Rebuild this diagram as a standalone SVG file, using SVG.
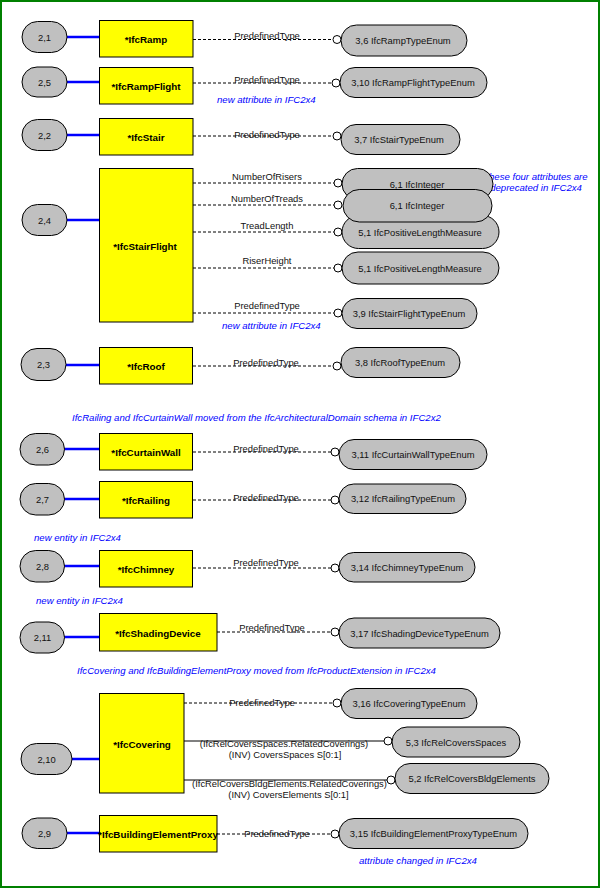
<svg xmlns="http://www.w3.org/2000/svg" width="600" height="888" viewBox="0 0 600 888">
<style>
.bg{fill:#fff}
.frame{fill:none;stroke:#008000;stroke-width:2}
.oval{fill:#c0c0c0;stroke:#000;stroke-width:1}
.box{fill:#ffff00;stroke:#000;stroke-width:1}
.blue{stroke:#0000ff;stroke-width:2.5;fill:none}
.dash{stroke:#000;stroke-width:1;stroke-dasharray:3,2;fill:none}
.solid{stroke:#000;stroke-width:1;fill:none}
.end{fill:#fff;stroke:#000;stroke-width:1}
text{font-family:"Liberation Sans",Arial,sans-serif}
.t{font-size:9.4px;fill:#111;text-anchor:middle}
.tb{font-size:9.8px;font-weight:bold;fill:#000;text-anchor:middle}
.lab{font-size:9.4px;fill:#111;text-anchor:middle}
.note{font-size:9.6px;font-style:italic;fill:#0000ff}
</style>
<rect class="bg" x="0" y="0" width="600" height="888"/>
<rect class="frame" x="1" y="1" width="598" height="886"/>

<g id="notes">
<text class="note" x="217" y="103">new attribute in IFC2x4</text>
<text class="note" x="222" y="329">new attribute in IFC2x4</text>
<text class="note" x="537" y="180" text-anchor="middle">these four attributes are</text>
<text class="note" x="536" y="191" text-anchor="middle">deprecated in IFC2x4</text>
<text class="note" x="72" y="421">IfcRailing and IfcCurtainWall moved from the IfcArchitecturalDomain schema in IFC2x2</text>
<text class="note" x="34" y="541">new entity in IFC2x4</text>
<text class="note" x="36" y="604">new entity in IFC2x4</text>
<text class="note" x="77" y="674">IfcCovering and IfcBuildingElementProxy moved from  IfcProductExtension in IFC2x4</text>
<text class="note" x="359" y="864">attribute changed in IFC2x4</text>
</g>

<g id="connectors">
<!-- blue links -->
<line class="blue" x1="67" y1="37" x2="99" y2="37"/>
<line class="blue" x1="67" y1="82" x2="99" y2="82"/>
<line class="blue" x1="67" y1="135" x2="99" y2="135"/>
<line class="blue" x1="67" y1="220" x2="99" y2="220"/>
<line class="blue" x1="66" y1="365" x2="99" y2="365"/>
<line class="blue" x1="64" y1="449" x2="99" y2="449"/>
<line class="blue" x1="64" y1="499" x2="99" y2="499"/>
<line class="blue" x1="64" y1="566" x2="99" y2="566"/>
<line class="blue" x1="64" y1="637" x2="99" y2="637"/>
<line class="blue" x1="72" y1="759" x2="99" y2="759"/>
<line class="blue" x1="67" y1="833" x2="99" y2="833"/>
<!-- attribute links -->
<line class="dash" x1="193" y1="39.5" x2="333" y2="39.5"/>
<circle class="end" cx="337" cy="39.5" r="4"/>
<text class="lab" x="267" y="39">PredefinedType</text>

<line class="dash" x1="193" y1="83" x2="332" y2="83"/>
<circle class="end" cx="336" cy="83" r="4"/>
<text class="lab" x="267" y="83">PredefinedType</text>

<line class="dash" x1="193" y1="136" x2="333" y2="136"/>
<circle class="end" cx="337" cy="136" r="4"/>
<text class="lab" x="267" y="138">PredefinedType</text>

<line class="dash" x1="193" y1="183" x2="334" y2="183"/>
<circle class="end" cx="338" cy="183" r="4"/>
<text class="lab" x="267" y="180">NumberOfRisers</text>

<line class="dash" x1="193" y1="205" x2="334" y2="205"/>
<circle class="end" cx="338" cy="205" r="4"/>
<text class="lab" x="267" y="202">NumberOfTreads</text>

<line class="dash" x1="193" y1="232" x2="334" y2="232"/>
<circle class="end" cx="338" cy="232" r="4"/>
<text class="lab" x="267" y="229">TreadLength</text>

<line class="dash" x1="193" y1="268" x2="334" y2="268"/>
<circle class="end" cx="338" cy="268" r="4"/>
<text class="lab" x="267" y="264">RiserHeight</text>

<line class="dash" x1="193" y1="313" x2="334" y2="313"/>
<circle class="end" cx="338" cy="313" r="4"/>
<text class="lab" x="267" y="309">PredefinedType</text>

<line class="dash" x1="193" y1="366" x2="333" y2="366"/>
<circle class="end" cx="337" cy="366" r="4"/>
<text class="lab" x="266" y="366">PredefinedType</text>

<line class="dash" x1="193" y1="452" x2="331" y2="452"/>
<circle class="end" cx="335" cy="452" r="4"/>
<text class="lab" x="266" y="452">PredefinedType</text>

<line class="dash" x1="193" y1="500" x2="331" y2="500"/>
<circle class="end" cx="335" cy="500" r="4"/>
<text class="lab" x="266" y="501">PredefinedType</text>

<line class="dash" x1="193" y1="568" x2="331" y2="568"/>
<circle class="end" cx="335" cy="568" r="4"/>
<text class="lab" x="266" y="566">PredefinedType</text>

<line class="dash" x1="217" y1="632" x2="331" y2="632"/>
<circle class="end" cx="335" cy="632" r="4"/>
<text class="lab" x="272" y="631">PredefinedType</text>

<line class="dash" x1="184" y1="703" x2="333" y2="703"/>
<circle class="end" cx="337" cy="703" r="4"/>
<text class="lab" x="262" y="706">PredefinedType</text>

<line class="solid" x1="184" y1="741" x2="384" y2="741"/>
<circle class="end" cx="388" cy="741" r="4"/>
<text class="lab" x="284" y="747">(IfcRelCoversSpaces.RelatedCoverings)</text>
<text class="lab" x="285" y="758">(INV) CoversSpaces S[0:1]</text>

<line class="solid" x1="184" y1="780" x2="387" y2="780"/>
<circle class="end" cx="391" cy="780" r="4"/>
<text class="lab" x="289.5" y="787">(IfcRelCoversBldgElements.RelatedCoverings)</text>
<text class="lab" x="288.5" y="798">(INV) CoversElements S[0:1]</text>

<line class="dash" x1="217" y1="834" x2="331" y2="834"/>
<circle class="end" cx="335" cy="834" r="4"/>
<text class="lab" x="277" y="837">PredefinedType</text>
</g>

<!-- left index ovals -->
<g id="n2_1"><rect class="oval" x="22" y="21.5" width="45" height="31" rx="15.5"/><text class="t" x="44.5" y="40.5">2,1</text></g>
<g id="n2_5"><rect class="oval" x="22" y="67" width="45" height="30" rx="15"/><text class="t" x="44.5" y="85.5">2,5</text></g>
<g id="n2_2"><rect class="oval" x="22" y="119.5" width="45" height="31" rx="15.5"/><text class="t" x="44.5" y="138.5">2,2</text></g>
<g id="n2_4"><rect class="oval" x="22" y="204.5" width="45" height="31" rx="15.5"/><text class="t" x="44.5" y="223.5">2,4</text></g>
<g id="n2_3"><rect class="oval" x="21" y="348.5" width="45" height="32" rx="16"/><text class="t" x="43.5" y="368">2,3</text></g>
<g id="n2_6"><rect class="oval" x="20" y="433.5" width="44.5" height="31.5" rx="15.75"/><text class="t" x="42.5" y="452.5">2,6</text></g>
<g id="n2_7"><rect class="oval" x="20" y="483.5" width="44.5" height="31.5" rx="15.75"/><text class="t" x="42.5" y="502.5">2,7</text></g>
<g id="n2_8"><rect class="oval" x="20" y="550.5" width="44.5" height="31.5" rx="15.75"/><text class="t" x="42.5" y="569.5">2,8</text></g>
<g id="n2_11"><rect class="oval" x="20" y="622" width="44.5" height="31" rx="15.5"/><text class="t" x="42.5" y="641">2,11</text></g>
<g id="n2_10"><rect class="oval" x="21" y="743.5" width="51" height="31" rx="15.5"/><text class="t" x="46.5" y="762.5">2,10</text></g>
<g id="n2_9"><rect class="oval" x="22" y="818" width="45" height="30.5" rx="15.25"/><text class="t" x="44.5" y="836.5">2,9</text></g>

<!-- entity boxes -->
<g id="IfcRamp"><rect class="box" x="99.5" y="20.5" width="93.5" height="36.5"/><text class="tb" x="146" y="43">*IfcRamp</text></g>
<g id="IfcRampFlight"><rect class="box" x="99.5" y="67.5" width="93.5" height="36.5"/><text class="tb" x="146" y="90">*IfcRampFlight</text></g>
<g id="IfcStair"><rect class="box" x="99.5" y="118.5" width="93.5" height="36.5"/><text class="tb" x="146" y="141">*IfcStair</text></g>
<g id="IfcStairFlight"><rect class="box" x="99.5" y="168.5" width="93.5" height="153.5"/><text class="tb" x="145" y="249.5">*IfcStairFlight</text></g>
<g id="IfcRoof"><rect class="box" x="99.5" y="347.5" width="93" height="36.5"/><text class="tb" x="146" y="370">*IfcRoof</text></g>
<g id="IfcCurtainWall"><rect class="box" x="99.5" y="433.5" width="93" height="36.5"/><text class="tb" x="146" y="456">*IfcCurtainWall</text></g>
<g id="IfcRailing"><rect class="box" x="99.5" y="481.5" width="93" height="36.5"/><text class="tb" x="146" y="504">*IfcRailing</text></g>
<g id="IfcChimney"><rect class="box" x="99.5" y="550.5" width="93" height="36.5"/><text class="tb" x="146" y="573">*IfcChimney</text></g>
<g id="IfcShadingDevice"><rect class="box" x="99.5" y="613.5" width="117.5" height="37.5"/><text class="tb" x="158" y="636.5">*IfcShadingDevice</text></g>
<g id="IfcCovering"><rect class="box" x="99.5" y="693.5" width="84.5" height="99.5"/><text class="tb" x="142" y="747.5">*IfcCovering</text></g>
<g id="IfcBuildingElementProxy"><rect class="box" x="99.5" y="815.5" width="117.5" height="36.5"/><text class="tb" x="158" y="838">*IfcBuildingElementProxy</text></g>

<!-- type ovals -->
<g id="IfcRampTypeEnum"><rect class="oval" x="341" y="25" width="126" height="31" rx="15.5"/><text class="t" x="403" y="43.5">3,6 IfcRampTypeEnum</text></g>
<g id="IfcRampFlightTypeEnum"><rect class="oval" x="340" y="67.5" width="147" height="30" rx="15"/><text class="t" x="413" y="86">3,10 IfcRampFlightTypeEnum</text></g>
<g id="IfcStairTypeEnum"><rect class="oval" x="341" y="124.5" width="119" height="30" rx="15"/><text class="t" x="399" y="143">3,7 IfcStairTypeEnum</text></g>
<g id="IfcPositiveLengthMeasure_1"><rect class="oval" x="342" y="215.5" width="157" height="33" rx="16.5"/><text class="t" x="420" y="235.5">5,1 IfcPositiveLengthMeasure</text></g>
<g id="IfcInteger_1"><rect class="oval" x="342" y="168.5" width="151" height="31" rx="15.5"/><text class="t" x="417" y="187.5">6,1 IfcInteger</text></g>
<g id="IfcInteger_2"><rect class="oval" x="343" y="189.5" width="149" height="32.5" rx="16.25"/><text class="t" x="417" y="208.5">6,1 IfcInteger</text></g>
<g id="IfcPositiveLengthMeasure_2"><rect class="oval" x="342" y="252" width="157" height="32" rx="16"/><text class="t" x="420" y="271.5">5,1 IfcPositiveLengthMeasure</text></g>
<g id="IfcStairFlightTypeEnum"><rect class="oval" x="342" y="298.5" width="135" height="30" rx="15"/><text class="t" x="409" y="317">3,9 IfcStairFlightTypeEnum</text></g>
<g id="IfcRoofTypeEnum"><rect class="oval" x="341" y="347.5" width="119" height="30" rx="15"/><text class="t" x="400" y="366">3,8 IfcRoofTypeEnum</text></g>
<g id="IfcCurtainWallTypeEnum"><rect class="oval" x="339" y="439.5" width="148" height="30" rx="15"/><text class="t" x="413" y="458">3,11 IfcCurtainWallTypeEnum</text></g>
<g id="IfcRailingTypeEnum"><rect class="oval" x="339" y="484" width="127" height="29.5" rx="14.75"/><text class="t" x="403" y="502">3,12 IfcRailingTypeEnum</text></g>
<g id="IfcChimneyTypeEnum"><rect class="oval" x="339" y="552.5" width="136" height="29.5" rx="14.75"/><text class="t" x="407" y="570.5">3,14 IfcChimneyTypeEnum</text></g>
<g id="IfcShadingDeviceTypeEnum"><rect class="oval" x="339" y="618" width="161" height="30" rx="15"/><text class="t" x="419.5" y="636.5">3,17 IfcShadingDeviceTypeEnum</text></g>
<g id="IfcCoveringTypeEnum"><rect class="oval" x="341" y="688.5" width="136" height="30" rx="15"/><text class="t" x="409" y="707">3,16 IfcCoveringTypeEnum</text></g>
<g id="IfcRelCoversSpaces"><rect class="oval" x="392" y="727" width="128" height="30" rx="15"/><text class="t" x="456" y="745.5">5,3 IfcRelCoversSpaces</text></g>
<g id="IfcRelCoversBldgElements"><rect class="oval" x="395" y="763.5" width="154" height="30" rx="15"/><text class="t" x="472" y="782">5,2 IfcRelCoversBldgElements</text></g>
<g id="IfcBuildingElementProxyTypeEnum"><rect class="oval" x="339" y="818.5" width="189" height="30" rx="15"/><text class="t" x="433.5" y="837">3,15 IfcBuildingElementProxyTypeEnum</text></g>
</svg>
